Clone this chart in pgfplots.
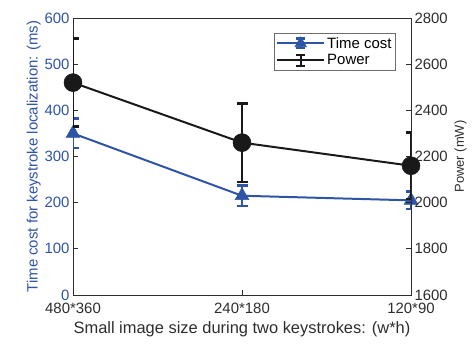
\documentclass[border=0pt]{standalone}
\usepackage{fontspec}
\setmainfont{Liberation Sans}
\usepackage{pgfplots}
\pgfplotsset{compat=1.18}
\usetikzlibrary{calc}
\definecolor{tblue}{RGB}{46,84,168}
\definecolor{tgray}{RGB}{45,45,45}
\begin{document}
\begin{tikzpicture}
\pgfplotsset{
  every axis/.append style={
    scale only axis, width=338bp, height=277bp,
    xmin=0, xmax=2,
    tick align=inside, major tick length=5bp,
    /pgf/number format/assume math mode=true,
    /pgf/number format/1000 sep={},
    tick label style={font=\fontsize{15}{17}\selectfont},
    axis line style={tgray, line width=0.7pt},
    every tick/.style={tgray, line width=0.7pt},
  }
}
\begin{axis}[name=ax,
  ymin=0, ymax=600, ytick={0,100,...,600},
  xtick={0,1,2}, xticklabels={480*360,240*180,120*90},
  xtick pos=bottom, ytick pos=left,
  yticklabel style={tblue},
  xticklabel style={tgray, yshift=-5bp},
  xlabel={Small image size during two keystrokes: (w*h)},
  xlabel style={font=\fontsize{16.5}{19}\selectfont, tgray, yshift=-1bp},
  ylabel={Time cost for keystroke localization: (ms)},
  ylabel style={font=\fontsize{15}{18}\selectfont, tblue, yshift=-3bp},
]
\addplot[tblue, line width=2pt, mark=triangle*, mark size=8bp,
  mark options={solid, line width=0.5pt},
  error bars/.cd, y dir=both, y explicit,
  error bar style={line width=2pt, tblue},
  error mark options={rotate=90, mark size=5.5bp, line width=2.6pt, tblue}]
  coordinates {
  (0,350) +- (0,32)
  (1,215) +- (0,22)
  (2,205) +- (0,19)
  };
\end{axis}
\begin{axis}[
  ymin=1600, ymax=2800, ytick={1600,1800,...,2800},
  axis x line=none, axis y line*=right,
  yticklabel style={tgray},
  ylabel={Power (mW)},
  ylabel style={font=\fontsize{13}{16}\selectfont, tgray},
  legend style={at={(rel axis cs:0.955,0.946)}, anchor=north east,
    draw=tgray!70, line width=0.7pt, font=\fontsize{15}{17}\selectfont,
    inner sep=2pt, row sep=1pt, cells={anchor=west}},
]
\addlegendimage{legend image code/.code={
    \draw[tblue, line width=2pt] (0cm,0cm) -- (1.65cm,0cm);
    \draw[tblue, line width=2pt] (0.82cm,-0.17cm) -- (0.82cm,0.17cm);
    \draw[tblue, line width=2.4pt] (0.66cm,-0.17cm) -- (0.98cm,-0.17cm);
    \draw[tblue, line width=2.4pt] (0.66cm,0.17cm) -- (0.98cm,0.17cm);
    \fill[tblue] (0.82cm,0cm) +(90:6.5bp) -- +(210:6.5bp) -- +(330:6.5bp) -- cycle;
  }}
\addlegendentry{Time cost}
\addplot[black!90, line width=2pt, mark=*, mark size=9bp,
  mark options={line width=0.5pt},
  legend image code/.code={
    \draw[black!90, line width=2pt] (0cm,0cm) -- (1.65cm,0cm);
    \draw[black!90, line width=2pt] (0.82cm,-0.2cm) -- (0.82cm,0.2cm);
    \draw[black!90, line width=2.4pt] (0.66cm,-0.2cm) -- (0.98cm,-0.2cm);
    \draw[black!90, line width=2.4pt] (0.66cm,0.2cm) -- (0.98cm,0.2cm);
  },
  error bars/.cd, y dir=both, y explicit,
  error bar style={line width=2pt, black!90},
  error mark options={rotate=90, mark size=5.5bp, line width=2.6pt, black!90}]
  coordinates {
  (0,2520) +- (0,190)
  (1,2260) +- (0,170)
  (2,2160) +- (0,145)
  };
\addlegendentry{Power}
\end{axis}
\pgfresetboundingbox
\path ($(ax.south west)+(-73bp,-50bp)$) rectangle ($(ax.north east)+(65bp,18bp)$);
\end{tikzpicture}
\end{document}
